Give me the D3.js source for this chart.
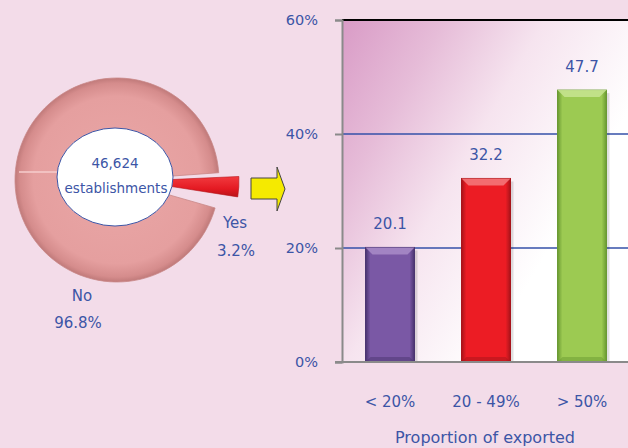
<!DOCTYPE html>
<html><head><meta charset="utf-8">
<script src="https://cdn.jsdelivr.net/npm/d3@7"></script>
<style>
html,body{margin:0;padding:0;background:#f3dce9;}
svg{display:block;}
text{font-family:"DejaVu Sans",sans-serif;fill:#3c55a6;}
</style></head><body>
<svg id="c" width="628" height="448"></svg>
<script>
// ---- data ----
const pieLabels = ["Yes", "No"];
const pieValues = [3.2, 96.8];
const totalLabel = ["46,624", "establishments"];
const categories = ["< 20%", "20 - 49%", "> 50%"];
const barValues = [20.1, 32.2, 47.7];
const barColors = ["#7a58a5", "#ec1c24", "#9cca52"];
const barEdge = ["#4a3470", "#a8141a", "#6a9a32"];
const barLight = ["#a98cc8", "#f47a7e", "#c8e592"];
const yTicks = [0, 20, 40, 60];
const xTitle = "Proportion of exported";

const svg = d3.select("#c");
const defs = svg.append("defs");
const FS = "15px";

// ---- bar chart ----
const x = d3.scaleBand().domain(categories).range([342, 630]).paddingInner(0.49).paddingOuter(0.245);
const y = d3.scaleLinear().domain([0, 60]).range([362, 20]);

const bg = defs.append("linearGradient").attr("id","plotbg").attr("x1",0).attr("y1",0).attr("x2",0.8).attr("y2",0.55);
bg.append("stop").attr("offset",0).attr("stop-color","#d99bc6");
bg.append("stop").attr("offset",0.3).attr("stop-color","#e6bcd8");
bg.append("stop").attr("offset",0.6).attr("stop-color","#f6e4ef");
bg.append("stop").attr("offset",1).attr("stop-color","#ffffff");

svg.append("rect").attr("x",342).attr("y",y(60)).attr("width",630-342).attr("height",y(0)-y(60)).attr("fill","url(#plotbg)");

// gridlines
svg.append("g").selectAll("line").data(yTicks.filter(d=>d>0 && d<60)).join("line")
  .attr("x1",342).attr("x2",630).attr("y1",d=>y(d)).attr("y2",d=>y(d))
  .attr("stroke","#3550a8").attr("stroke-width",1.6);
// top border
svg.append("line").attr("x1",342).attr("x2",630).attr("y1",y(60)).attr("y2",y(60)).attr("stroke","#000").attr("stroke-width",2);

// y axis
const yAxis = d3.axisLeft(y).tickValues(yTicks).tickFormat(d=>d+"%").tickSize(7).tickPadding(17);
const ga = svg.append("g").attr("transform","translate(342,0)").call(yAxis);
ga.select(".domain").attr("stroke","#8a8a8a").attr("stroke-width",2);
ga.selectAll(".tick line").attr("stroke","#8a8a8a").attr("stroke-width",2);
ga.selectAll(".tick text").style("font-size","14.5px").style("font-family","DejaVu Sans").attr("fill","#3c55a6");

// bars
barValues.forEach((v,i)=>{
  const g = defs.append("linearGradient").attr("id","bg"+i).attr("x1",0).attr("x2",1).attr("y1",0).attr("y2",0);
  g.append("stop").attr("offset",0).attr("stop-color",barEdge[i]);
  g.append("stop").attr("offset",0.1).attr("stop-color",barColors[i]);
  g.append("stop").attr("offset",0.9).attr("stop-color",barColors[i]);
  g.append("stop").attr("offset",1).attr("stop-color",barEdge[i]);
});
const bars = svg.append("g").selectAll("g").data(barValues).join("g");
bars.append("rect").attr("x",(d,i)=>x(categories[i])+3).attr("y",d=>y(d)+3).attr("width",x.bandwidth()).attr("height",d=>y(0)-y(d)-3)
  .attr("fill","#000").attr("opacity",0.12);
bars.append("rect").attr("x",(d,i)=>x(categories[i])).attr("y",d=>y(d)).attr("width",x.bandwidth()).attr("height",d=>y(0)-y(d))
  .attr("fill",(d,i)=>`url(#bg${i})`).attr("stroke",(d,i)=>barEdge[i]).attr("stroke-width",1);
bars.append("path").attr("d",(d,i)=>{
  const x0=x(categories[i]), w=x.bandwidth(), t=y(d), b=7;
  return `M${x0},${t}L${x0+w},${t}L${x0+w-b},${t+b}L${x0+b},${t+b}Z`;
}).attr("fill",(d,i)=>barLight[i]).attr("opacity",0.85);
bars.append("path").attr("d",(d,i)=>{
  const x0=x(categories[i]), w=x.bandwidth(), bt=y(0), b=5;
  return `M${x0},${bt}L${x0+w},${bt}L${x0+w-b},${bt-b}L${x0+b},${bt-b}Z`;
}).attr("fill",(d,i)=>barEdge[i]).attr("opacity",0.5);
bars.append("text").attr("x",(d,i)=>x(categories[i])+x.bandwidth()/2).attr("y",d=>y(d)-18)
  .attr("text-anchor","middle").style("font-size",FS).text(d=>d.toFixed(1));

// bottom axis line
svg.append("line").attr("x1",335).attr("x2",630).attr("y1",y(0)).attr("y2",y(0)).attr("stroke","#8a8a8a").attr("stroke-width",2);

// category labels
svg.append("g").selectAll("text").data(categories).join("text")
  .attr("x",d=>x(d)+x.bandwidth()/2).attr("y",407).attr("text-anchor","middle").style("font-size",FS).text(d=>d);
svg.append("text").attr("x",485).attr("y",443).attr("text-anchor","middle").style("font-size","16px").text(xTitle);

// ---- pie ----
const cx=117, cy=180, R=102;
const deg = Math.PI/180;
const pie = d3.pie().sort(null).startAngle(87.4*deg).endAngle(87.4*deg+2*Math.PI);
const arcs = pie(pieValues);
const arc = d3.arc().innerRadius(0).outerRadius(R);

const rg = defs.append("radialGradient").attr("id","pieg").attr("cx",0.5).attr("cy",0.5).attr("r",0.5)
  .attr("gradientUnits","objectBoundingBox");
rg.append("stop").attr("offset",0).attr("stop-color","#eaa7a7");
rg.append("stop").attr("offset",0.82).attr("stop-color","#e59f9f");
rg.append("stop").attr("offset",0.95).attr("stop-color","#d58c8c");
rg.append("stop").attr("offset",1).attr("stop-color","#c07a7a");

const pg = svg.append("g").attr("transform",`translate(${cx},${cy})`);
const no = arcs[1];
pg.append("path").attr("d",arc({startAngle:no.startAngle+7*deg,endAngle:no.endAngle-1.5*deg}))
  .attr("fill","url(#pieg)").attr("stroke","#c98888").attr("stroke-width",0.8);
pg.append("line").attr("x1",-R+4).attr("y1",-8).attr("x2",-50).attr("y2",-8).attr("stroke","#f6cccc").attr("stroke-width",1.5);
const yes = arcs[0];
const mid = (yes.startAngle+yes.endAngle)/2, off=20;
const redg = defs.append("linearGradient").attr("id","redg").attr("x1",0).attr("x2",0).attr("y1",0).attr("y2",1);
redg.append("stop").attr("offset",0).attr("stop-color","#f23a3f");
redg.append("stop").attr("offset",0.6).attr("stop-color","#e41a22");
redg.append("stop").attr("offset",1).attr("stop-color","#b8141a");
pg.append("path").attr("transform",`translate(${off*Math.sin(mid)},${-off*Math.cos(mid)})`)
  .attr("d",arc(yes)).attr("fill","url(#redg)").attr("stroke","#b51218").attr("stroke-width",0.6);

// center ellipse
svg.append("ellipse").attr("cx",115).attr("cy",177).attr("rx",58).attr("ry",49)
  .attr("fill","#fff").attr("stroke","#3c55a6").attr("stroke-width",1);
svg.append("text").attr("x",115).attr("y",168).attr("text-anchor","middle").style("font-size","13.5px").text(totalLabel[0]);
svg.append("text").attr("x",116).attr("y",193).attr("text-anchor","middle").style("font-size","13.5px").text(totalLabel[1]);

// pie labels
svg.append("text").attr("x",235).attr("y",228).attr("text-anchor","middle").style("font-size",FS).text(pieLabels[0]);
svg.append("text").attr("x",236).attr("y",256).attr("text-anchor","middle").style("font-size",FS).text(pieValues[0].toFixed(1)+"%");
svg.append("text").attr("x",82).attr("y",301).attr("text-anchor","middle").style("font-size",FS).text(pieLabels[1]);
svg.append("text").attr("x",78).attr("y",328).attr("text-anchor","middle").style("font-size",FS).text(pieValues[1].toFixed(1)+"%");

// yellow arrow
svg.append("path").attr("d","M251,178L277,178L277,167L285,189L277,211L277,199L251,199Z")
  .attr("fill","#f5ea00").attr("stroke","#444").attr("stroke-width",1);
</script>
</body></html>
